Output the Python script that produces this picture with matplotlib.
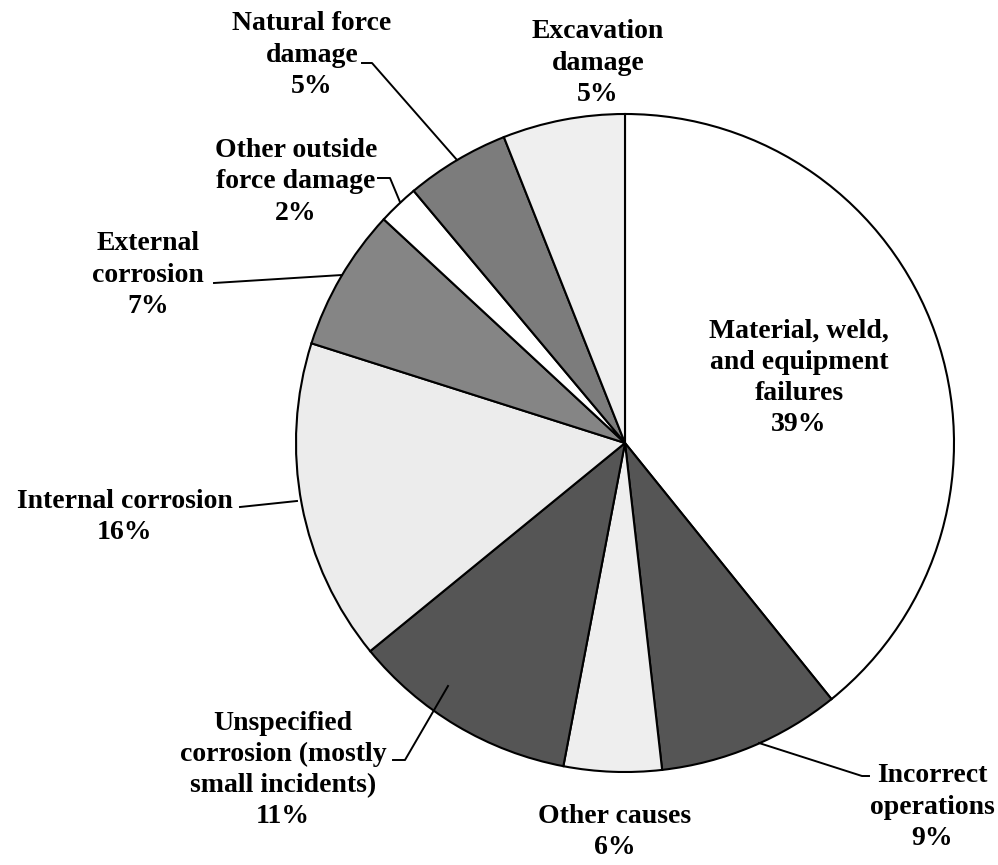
import matplotlib
matplotlib.use("Agg")
import matplotlib.pyplot as plt

# slice data, clockwise from 12 o'clock (angles)
causes = [
    "Material, weld,\nand equipment\nfailures",
    "Incorrect\noperations",
    "Other causes",
    "Unspecified\ncorrosion (mostly\nsmall incidents)",
    "Internal corrosion",
    "External\ncorrosion",
    "Other outside\nforce damage",
    "Natural force\ndamage",
    "Excavation\ndamage",
]
shares = [39.2, 9.0, 4.8, 11.1, 15.8, 7.0, 2.0, 5.1, 6.0]
pct_labels = ["39%", "9%", "6%", "11%", "16%", "7%", "2%", "5%", "5%"]
fills = ["#ffffff", "#555555", "#eeeeee", "#555555", "#ececec",
         "#858585", "#ffffff", "#7c7c7c", "#efefef"]

W, H = 998, 865
CX, CY, R = 625, 443, 329


def px(x, y):
    # figure pixel -> data units (pie radius = 1)
    return (x - CX) / R, (CY - y) / R


plt.rcParams["font.family"] = ["Liberation Serif", "DejaVu Serif"]

fig = plt.figure(figsize=(W / 100, H / 100), dpi=100)
ax = fig.add_axes([0, 0, 1, 1])
ax.pie(shares, colors=fills, startangle=90, counterclock=False, radius=1,
       wedgeprops=dict(edgecolor="black", linewidth=1.5))
ax.set_aspect("auto")
ax.set_xlim(px(0, 0)[0], px(W, 0)[0])
ax.set_ylim(px(0, H)[1], px(0, 0)[1])
ax.axis("off")

# label centres (pixels) and leader lines
label_pos = [(799, 378), (932, 807), (615, 832), (283, 770), (125, 517),
             (148, 275), (296, 182), (312, 55), (598, 63)]
leaders = {
    1: [(759, 743), (862, 776), (869, 776)],
    3: [(393, 760), (405, 760), (448, 686)],
    4: [(240, 507), (297, 501)],
    5: [(214, 283), (342, 275)],
    6: [(378, 178), (390, 178), (400, 202)],
    7: [(362, 63), (372, 63), (457, 160)],
}

for i, (name, pct) in enumerate(zip(causes, pct_labels)):
    x, y = px(*label_pos[i])
    ax.text(x, y, name + "\n" + pct, ha="center", va="center",
            fontsize=20, fontweight="bold", linespacing=1.32)

for pts in leaders.values():
    xs, ys = zip(*[px(a, b) for a, b in pts])
    ax.plot(xs, ys, color="black", linewidth=1.4)

fig.savefig("out.png", dpi=100)
